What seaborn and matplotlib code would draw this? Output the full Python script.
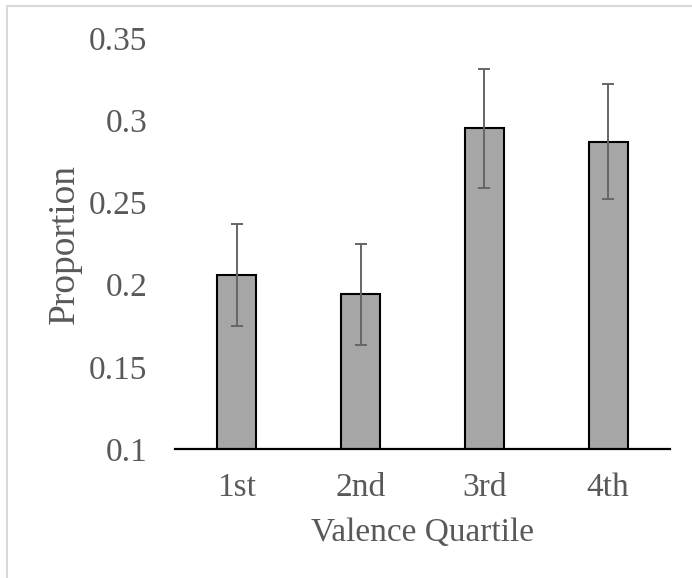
import matplotlib
matplotlib.use("Agg")
import matplotlib.pyplot as plt
import seaborn as sns
import pandas as pd
from matplotlib.patches import Rectangle

categories = ["1st", "2nd", "3rd", "4th"]
proportions = [0.206, 0.194, 0.295, 0.287]
errors = [0.031, 0.031, 0.036, 0.035]
yticks = [0.1, 0.15, 0.2, 0.25, 0.3, 0.35]
ytick_labels = ["0.1", "0.15", "0.2", "0.25", "0.3", "0.35"]

df = pd.DataFrame({"Quartile": categories, "Proportion": proportions})

sns.set_theme(style="white")
plt.rcParams["font.family"] = ["Liberation Serif", "DejaVu Serif"]

text_color = "#595959"
fs = 24
fig = plt.figure(figsize=(6.92, 5.78), dpi=100)
ax = fig.add_axes([175 / 692, (578 - 449) / 578, (670 - 175) / 692, (449 - 38) / 578])

sns.barplot(data=df, x="Quartile", y="Proportion", color="#a6a6a6",
            edgecolor="black", linewidth=1.5, width=0.315, saturation=1,
            errorbar=None, ax=ax)
ax.errorbar(x=list(range(len(categories))), y=proportions, yerr=errors,
            fmt="none", ecolor="#666666", elinewidth=1.4, capsize=4.5,
            capthick=1.4, zorder=5)

ax.set_ylim(0.1, 0.35)
ax.set_xlim(-0.5, len(categories) - 0.5)
ax.set_yticks(yticks)
ax.set_yticklabels(ytick_labels)
ax.tick_params(axis="y", length=0, pad=20, labelsize=fs, labelcolor=text_color)
ax.tick_params(axis="x", length=0, pad=17, labelsize=fs, labelcolor=text_color)
for s in ["left", "right", "top"]:
    ax.spines[s].set_visible(False)
ax.spines["bottom"].set_color("black")
ax.spines["bottom"].set_linewidth(1.6)
ax.set_xlabel("Valence Quartile", fontsize=fs, color=text_color, labelpad=10)
ax.set_ylabel("Proportion", fontsize=27, color=text_color, labelpad=5)
ax.grid(False)

border = Rectangle((7 / 692, -0.05), 1.1, (578 - 6) / 578 + 0.05,
                   transform=fig.transFigure, fill=False,
                   edgecolor="#d9d9d9", linewidth=1.5, clip_on=False)
fig.patches.append(border)

fig.savefig("out.png", dpi=100)
